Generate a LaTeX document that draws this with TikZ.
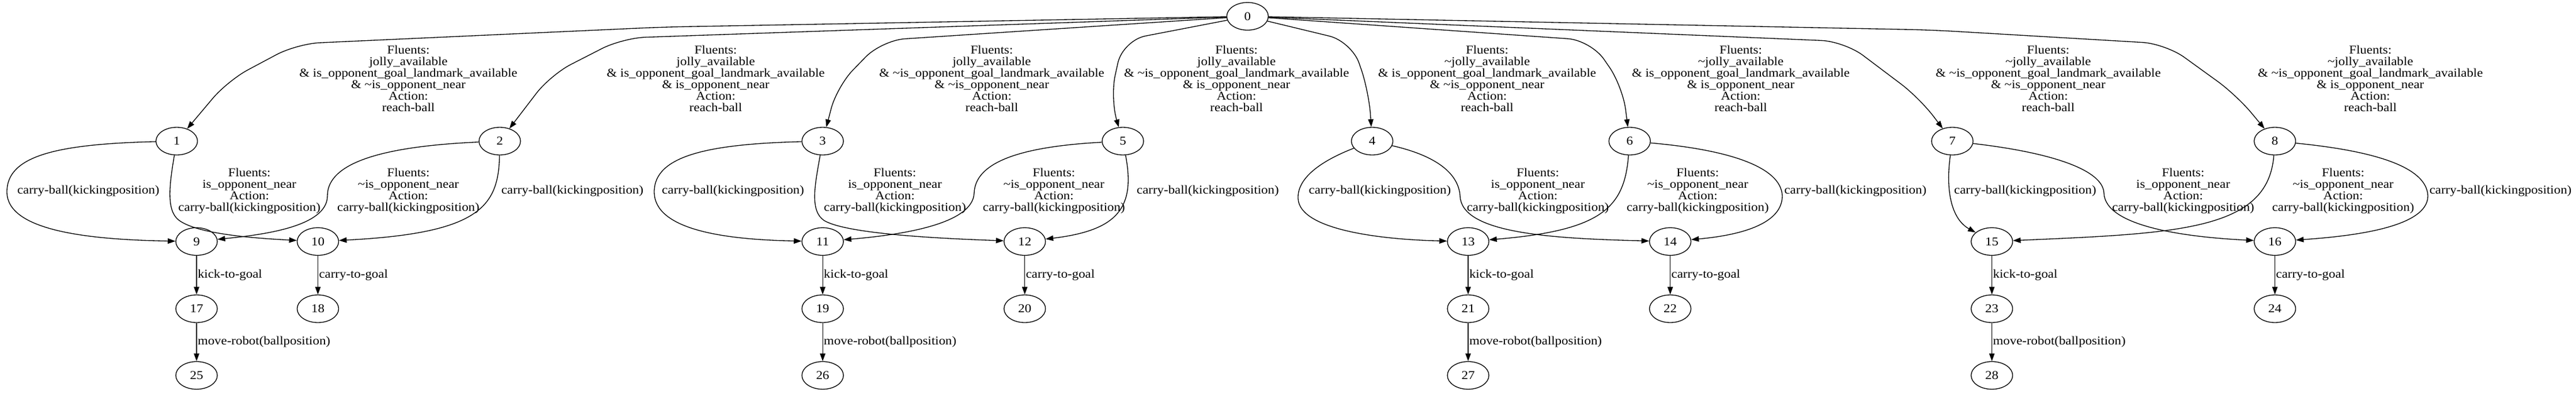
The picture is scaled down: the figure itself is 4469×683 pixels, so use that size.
\documentclass[tikz,border=0pt]{standalone}
\usepackage{fontspec}
\setmainfont{Liberation Serif}[FakeStretch=1.1]
\usetikzlibrary{shapes.geometric,arrows.meta}
\newcommand{\tnot}{\textasciitilde}

\begin{document}
\begin{tikzpicture}[
    x=0.75pt, y=-0.75pt,
    font=\fontsize{15.6}{15}\selectfont,
    state/.style={ellipse, draw, line width=1pt, minimum width=54pt, minimum height=36pt, inner sep=0pt},
    trans/.style={align=center, inner sep=0pt},
    edge/.style={-{Triangle[length=10pt,width=7pt]}, line width=1pt},
    branch/.style={edge, rounded corners=30pt},
    vlbl/.style={right, inner sep=1pt},
]
    \useasboundingbox (0,0) rectangle (4469,683);

    % Root
    \node[state] (n0) at (2164.3,28.3) {0};

    % First level
    \node[state] (n1) at (306.6,245) {1};
    \node[state] (n2) at (867,245) {2};
    \node[state] (n3) at (1427.2,245) {3};
    \node[state] (n5) at (1948,245) {5};
    \node[state] (n4) at (2380.5,245) {4};
    \node[state] (n6) at (2827.2,245) {6};
    \node[state] (n7) at (3387,245) {7};
    \node[state] (n8) at (3946.6,245) {8};

    % Second level
    \node[state] (n9) at (341,419.3) {9};
    \node[state] (n10) at (551.5,419.3) {10};
    \node[state] (n11) at (1427.2,419.3) {11};
    \node[state] (n12) at (1777.8,419.3) {12};
    \node[state] (n13) at (2547,419.3) {13};
    \node[state] (n14) at (2897.6,419.3) {14};
    \node[state] (n15) at (3455.6,419.3) {15};
    \node[state] (n16) at (3946.6,419.3) {16};

    % Third level
    \node[state] (n17) at (341,536) {17};
    \node[state] (n18) at (551.5,536) {18};
    \node[state] (n19) at (1427.2,536) {19};
    \node[state] (n20) at (1777.8,536) {20};
    \node[state] (n21) at (2547,536) {21};
    \node[state] (n22) at (2897.6,536) {22};
    \node[state] (n23) at (3455.6,536) {23};
    \node[state] (n24) at (3946.6,536) {24};

    % Fourth level
    \node[state] (n25) at (341,651.7) {25};
    \node[state] (n26) at (1427.2,651.7) {26};
    \node[state] (n27) at (2547,651.7) {27};
    \node[state] (n28) at (3455.6,651.7) {28};

    % Root edges
    \draw[branch] (n0) -- (1150,47) -- (515,76) -- (395,140) -- (n1);
    \draw[branch] (n0) -- (1080,66) -- (955,130) -- (n2);
    \draw[branch] (n0) -- (1530,70) -- (1452,150) -- (n3);
    \draw[branch] (n0) -- (1948,70) -- (1926,170) -- (n5);
    \draw[branch] (n0) -- (2345,72) -- (2375,160) -- (n4);
    \draw[branch] (n0) -- (2760,70) -- (2815,150) -- (n6);
    \draw[branch] (n0) -- (3200,72) -- (3330,170) -- (n7);
    \draw[branch] (n0) -- (3350,52) -- (3757,76) -- (3880,165) -- (n8);

    % Root edge labels
    \node[trans] (l1) at (708.5,136.7) {Fluents:\\jolly\_available\\\& is\_opponent\_goal\_landmark\_available\\\& \tnot is\_opponent\_near\\Action:\\reach-ball};
    \node[trans] (l2) at (1241.7,136.7) {Fluents:\\jolly\_available\\\& is\_opponent\_goal\_landmark\_available\\\& is\_opponent\_near\\Action:\\reach-ball};
    \node[trans] (l3) at (1720.6,136.7) {Fluents:\\jolly\_available\\\& \tnot is\_opponent\_goal\_landmark\_available\\\& \tnot is\_opponent\_near\\Action:\\reach-ball};
    \node[trans] (l5) at (2145.2,136.7) {Fluents:\\jolly\_available\\\& \tnot is\_opponent\_goal\_landmark\_available\\\& is\_opponent\_near\\Action:\\reach-ball};
    \node[trans] (l4) at (2580,136.7) {Fluents:\\\tnot jolly\_available\\\& is\_opponent\_goal\_landmark\_available\\\& \tnot is\_opponent\_near\\Action:\\reach-ball};
    \node[trans] (l6) at (3020,136.7) {Fluents:\\\tnot jolly\_available\\\& is\_opponent\_goal\_landmark\_available\\\& is\_opponent\_near\\Action:\\reach-ball};
    \node[trans] (l7) at (3553.4,136.7) {Fluents:\\\tnot jolly\_available\\\& \tnot is\_opponent\_goal\_landmark\_available\\\& \tnot is\_opponent\_near\\Action:\\reach-ball};
    \node[trans] (l8) at (4112.2,136.7) {Fluents:\\\tnot jolly\_available\\\& \tnot is\_opponent\_goal\_landmark\_available\\\& is\_opponent\_near\\Action:\\reach-ball};

    % Carry-ball edges
    \draw[edge] (n1) .. controls (100,250) and (12,270) .. (12,333) .. controls (12,400) and (150,416) .. (n9);
    \draw[edge] (n1) .. controls (294,320) and (288,365) .. (310,382) .. controls (340,405) and (430,413) .. (n10);
    \draw[edge] (n2) .. controls (640,255) and (568,290) .. (568,340) .. controls (568,395) and (450,408) .. (n9);
    \draw[edge] (n2) .. controls (865,360) and (830,405) .. (n10);

    \draw[edge] (n3) .. controls (1230,250) and (1135,270) .. (1135,333) .. controls (1135,400) and (1260,416) .. (n11);
    \draw[edge] (n3) .. controls (1414,320) and (1404,366) .. (1430,383) .. controls (1466,404) and (1600,413) .. (n12);
    \draw[edge] (n5) .. controls (1760,255) and (1692,285) .. (1690,335) .. controls (1688,390) and (1560,408) .. (n11);
    \draw[edge] (n5) .. controls (1970,360) and (1940,400) .. (n12);

    \draw[edge] (n4) .. controls (2290,280) and (2250,310) .. (2252,345) .. controls (2255,400) and (2400,416) .. (n13);
    \draw[edge] (n4) .. controls (2490,270) and (2530,300) .. (2533,340) .. controls (2535,405) and (2690,414) .. (n14);
    \draw[edge] (n6) .. controls (2818,360) and (2780,400) .. (n13);
    \draw[edge] (n6) .. controls (3000,260) and (3090,290) .. (3092,340) .. controls (3092,395) and (3000,410) .. (n14);

    \draw[edge] (n7) .. controls (3375,330) and (3385,380) .. (n15);
    \draw[edge] (n7) .. controls (3560,265) and (3648,295) .. (3650,335) .. controls (3652,395) and (3800,412) .. (n16);
    \draw[edge] (n8) .. controls (3935,400) and (3780,405) .. (n15);
    \draw[edge] (n8) .. controls (4120,262) and (4210,290) .. (4212,340) .. controls (4212,395) and (4080,410) .. (n16);

    % Carry-ball labels
    \node[trans] (c19) at (153.3,332) {carry-ball(kickingposition)};
    \node[trans] (c110) at (432.7,332) {Fluents:\\is\_opponent\_near\\Action:\\carry-ball(kickingposition)};
    \node[trans] (c29) at (708.5,332) {Fluents:\\\tnot is\_opponent\_near\\Action:\\carry-ball(kickingposition)};
    \node[trans] (c210) at (993,332) {carry-ball(kickingposition)};
    \node[trans] (c311) at (1271.7,332) {carry-ball(kickingposition)};
    \node[trans] (c312) at (1552.6,332) {Fluents:\\is\_opponent\_near\\Action:\\carry-ball(kickingposition)};
    \node[trans] (c511) at (1828.4,332) {Fluents:\\\tnot is\_opponent\_near\\Action:\\carry-ball(kickingposition)};
    \node[trans] (c512) at (2095.4,332) {carry-ball(kickingposition)};
    \node[trans] (c413) at (2393.9,332) {carry-ball(kickingposition)};
    \node[trans] (c414) at (2668,332) {Fluents:\\is\_opponent\_near\\Action:\\carry-ball(kickingposition)};
    \node[trans] (c613) at (2945.3,332) {Fluents:\\\tnot is\_opponent\_near\\Action:\\carry-ball(kickingposition)};
    \node[trans] (c614) at (3218.8,332) {carry-ball(kickingposition)};
    \node[trans] (c715) at (3513.4,332) {carry-ball(kickingposition)};
    \node[trans] (c716) at (3787.5,332) {Fluents:\\is\_opponent\_near\\Action:\\carry-ball(kickingposition)};
    \node[trans] (c815) at (4065,332) {Fluents:\\\tnot is\_opponent\_near\\Action:\\carry-ball(kickingposition)};
    \node[trans] (c816) at (4338,332) {carry-ball(kickingposition)};

    % Goal edges
    \draw[edge] (n9) -- node[vlbl] (k9) {kick-to-goal} (n17);
    \draw[edge] (n17) -- node[vlbl] (m17) {move-robot(ballposition)} (n25);
    \draw[edge] (n10) -- node[vlbl] (g10) {carry-to-goal} (n18);
    \draw[edge] (n11) -- node[vlbl] (k11) {kick-to-goal} (n19);
    \draw[edge] (n19) -- node[vlbl] (m19) {move-robot(ballposition)} (n26);
    \draw[edge] (n12) -- node[vlbl] (g12) {carry-to-goal} (n20);
    \draw[edge] (n13) -- node[vlbl] (k13) {kick-to-goal} (n21);
    \draw[edge] (n21) -- node[vlbl] (m21) {move-robot(ballposition)} (n27);
    \draw[edge] (n14) -- node[vlbl] (g14) {carry-to-goal} (n22);
    \draw[edge] (n15) -- node[vlbl] (k15) {kick-to-goal} (n23);
    \draw[edge] (n23) -- node[vlbl] (m23) {move-robot(ballposition)} (n28);
    \draw[edge] (n16) -- node[vlbl] (g16) {carry-to-goal} (n24);
\end{tikzpicture}
\end{document}
